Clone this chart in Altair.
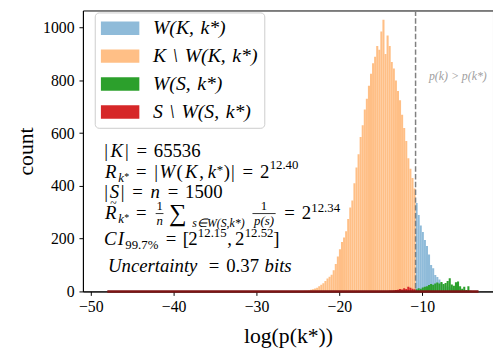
import altair as alt
import pandas as pd

# ---------------- data ----------------
BIN_WIDTH = 0.25
THRESHOLD = -10.8          # log(p(k*)) : dashed line
SP = "\u2004"
SERIES = [f"W(K,{SP}k*)", f"K{SP}\\{SP}W(K,{SP}k*)", f"W(S,{SP}k*)", f"S{SP}\\{SP}W(S,{SP}k*)"]
COLORS = ["#8fbbd9", "#ffbf86", "#2ca02c", "#d62728"]

# K \ W(K,k*)  (bins ending at THRESHOLD, ascending x)
orange_counts = [2, 1, 2, 3, 3, 4, 6, 8, 11, 14,
                 20, 25, 31, 40, 49, 56, 63, 80, 104, 132,
                 160, 187, 204, 228, 275, 318, 345, 410, 470, 520,
                 585, 630, 690, 730, 780, 825, 865, 890, 930, 916,
                 985, 1030, 900, 970, 930, 870, 845, 800, 760, 725,
                 670, 620, 570, 505, 465, 430, 390]
# W(K,k*)  (bins starting at THRESHOLD)
blue_counts = [335, 290, 250, 225, 195, 172, 140, 100, 88, 62,
               55, 45, 32, 24, 20, 18, 15, 12, 10, 8,
               7, 6, 4, 4, 3, 3, 2, 2, 1, 1, 1]
# W(S,k*)  (bins starting at THRESHOLD)
green_counts = [8, 12, 10, 15, 18, 20, 24, 28, 25, 30,
                34, 30, 36, 28, 32, 40, 50, 26, 22, 35,
                38, 20, 10, 18, 5, 20, 3]
# S \ W(S,k*)  (bins ending at THRESHOLD)
red_counts = [1, 1, 1, 1, 2, 2, 2, 3, 3, 4,
              5, 6, 9, 7, 12, 9, 18, 14, 10, 8]

S_RANGE = [-48.0, -3.2]     # extent of the sample histogram baseline
X_TICKS = [-50, -40, -30, -20, -10]
Y_TICKS = [0, 200, 400, 600, 800, 1000]
X_DOMAIN = [-50.35, -2.05]
Y_DOMAIN = [0, 1065]

# ---------------- build table ----------------
rows = []
def add(counts, first_edge, name):
    for i, c in enumerate(counts):
        s = first_edge + i * BIN_WIDTH
        rows.append({"start": s, "end": s + BIN_WIDTH, "count": c, "series": name})

add(blue_counts, THRESHOLD, SERIES[0])
add(orange_counts, THRESHOLD - len(orange_counts) * BIN_WIDTH, SERIES[1])
add(green_counts, THRESHOLD, SERIES[2])
add(red_counts, THRESHOLD - len(red_counts) * BIN_WIDTH, SERIES[3])
hist = pd.DataFrame(rows)

SERIF = "Liberation Serif"
W, H = 416, 285
X0, Y0 = 84, 8   # page offset of plot origin (for annotation placement)

bars = alt.Chart(hist).mark_bar(clip=True, strokeWidth=0, opacity=1, orient="vertical").encode(
    x=alt.X("start:Q", scale=alt.Scale(domain=X_DOMAIN, nice=False, zero=False),
            axis=alt.Axis(values=X_TICKS, title="log(p(k*))", grid=False, format="d")),
    x2="end:Q",
    y=alt.Y("count:Q", stack=None, scale=alt.Scale(domain=Y_DOMAIN, nice=False),
            axis=alt.Axis(values=Y_TICKS, title="count", grid=False, format="d")),
    y2=alt.datum(0),
    color=alt.Color("series:N", scale=alt.Scale(domain=SERIES, range=COLORS),
                    sort=SERIES,
                    legend=alt.Legend(
                        orient="none", legendX=12, legendY=2, title=None,
                        direction="vertical",
                        symbolType="M-1,-0.7H3V0.7H-1Z", symbolSize=380,
                        symbolStrokeWidth=0, symbolOpacity=1,
                        labelFont=SERIF, labelFontSize=20, labelFontStyle="italic",
                        labelColor="black", labelOffset=33, rowPadding=8.3,
                        padding=6, strokeColor="#cccccc", fillColor="white",
                        cornerRadius=4, labelLimit=300)),
)

thr = alt.Chart(pd.DataFrame({"t": [THRESHOLD]})).mark_rule(
    color="#808080", strokeWidth=1.5, strokeDash=[5.5, 2.4]).encode(x="t:Q")

base = alt.Chart(pd.DataFrame({"lo": [S_RANGE[0]], "hi": [S_RANGE[1]], "z": [0]})).mark_rule(
    color="#7d1414", strokeWidth=2.5).encode(x="lo:Q", x2="hi:Q", y="z:Q")

ONE = pd.DataFrame({"k": [0]})

def C(s, x, y, size=19, italic=False, color="black", align="center"):
    return alt.Chart(ONE).mark_text(
        text=s, align=align, baseline="middle", font=SERIF, fontSize=size,
        fontStyle="italic" if italic else "normal", color=color
    ).encode(x=alt.value(x - X0), y=alt.value(y - Y0))

def frac_bar(x1, x2, y):
    return alt.Chart(ONE).mark_rule(color="black", strokeWidth=0.8).encode(
        x=alt.value(x1 - X0), x2=alt.value(x2 - X0), y=alt.value(y - Y0))

texts = [
    # |K| = 65536
    C("|", 107.6, 151), C("K", 118.2, 151, italic=True), C("|", 128.7, 151),
    C("=", 143.8, 151), C("65536", 179.6, 151),
    # R_k* = |W(K,k*)| = 2^12.40
    C("R", 112.1, 172, italic=True), C("k", 122.6, 178, 13, True), C("*", 128.4, 177, 10),
    C("=", 143.2, 172), C("|", 158.2, 172), C("W", 169.7, 172, italic=True),
    C("(", 182.2, 172), C("K", 193.8, 172, italic=True), C(",", 204.3, 172),
    C("k", 214.9, 172, italic=True), C("*", 223, 170, 13), C(")", 229.9, 172),
    C("|", 236.1, 172), C("=", 251.2, 172), C("2", 268.3, 172), C("12.40", 288, 165, 13),
    # |S| = n = 1500
    C("|", 107.6, 192), C("S", 116, 192, italic=True), C("|", 124.3, 192),
    C("=", 139.4, 192), C("n", 157.4, 192, italic=True), C("=", 175.5, 192),
    C("1500", 206.6, 192),
    # R~_k* = 1/n sum_{s in W(S,k*)} 1/p(s) = 2^12.34
    C("R", 112.1, 214, italic=True), C("~", 115, 203, 12), C("k", 122.6, 220, 13, True),
    C("*", 128.4, 219, 10), C("=", 143.2, 214),
    C("1", 161.8, 206, 13), C("n", 161.8, 222, 13, True), frac_bar(157.8, 165.7, 214),
    C("\u2211", 180.3, 214, 25), C("s\u2208W(S,k*)", 221.5, 224, 12, True),
    C("1", 267.7, 206, 13), C("p(s)", 267.7, 222, 13, True), frac_bar(256, 279.5, 214),
    C("=", 293.5, 214), C("2", 310.7, 214), C("12.34", 330.3, 208, 13),
    # CI_99.7% = [2^12.15, 2^12.52]
    C("C", 111.7, 240, italic=True), C("I", 122.5, 240, italic=True),
    C("99.7%", 143.7, 246, 13), C("=", 173.3, 240), C("[", 188.3, 240),
    C("2", 195.6, 240), C("12.15", 215.2, 234, 13), C(",", 232.7, 240),
    C("2", 243.1, 240), C("12.52", 262.7, 234, 13), C("]", 280.2, 240),
    # Uncertainty = 0.37 bits
    C("Uncertainty", 154.8, 267, italic=True), C("=", 217, 267), C("0.37", 246, 267),
    C("bits", 282, 267, italic=True),
    # region label
    C("p(k) > p(k*)", 435, 75, 12, True, "#a0a0a0", "left"),
]

chart = alt.layer(bars, thr, base, *texts).properties(
    width=W, height=H,
    padding={"left": 76, "top": 0, "right": 0, "bottom": 65},
    autosize=alt.AutoSizeParams(type="none"),
).configure_view(stroke="black", strokeWidth=1).configure_axis(
    labelFont=SERIF, labelFontSize=16, labelColor="black",
    titleFont=SERIF, titleFontSize=22, titleFontWeight="normal", titleColor="black",
    domainColor="black", domainWidth=1, tickColor="black", tickSize=4, tickWidth=1,
).configure_axisX(labelPadding=3, titlePadding=12).configure_axisY(labelPadding=5, titlePadding=5)

chart.save("out.html", embed_options={"renderer": "svg", "actions": False})
